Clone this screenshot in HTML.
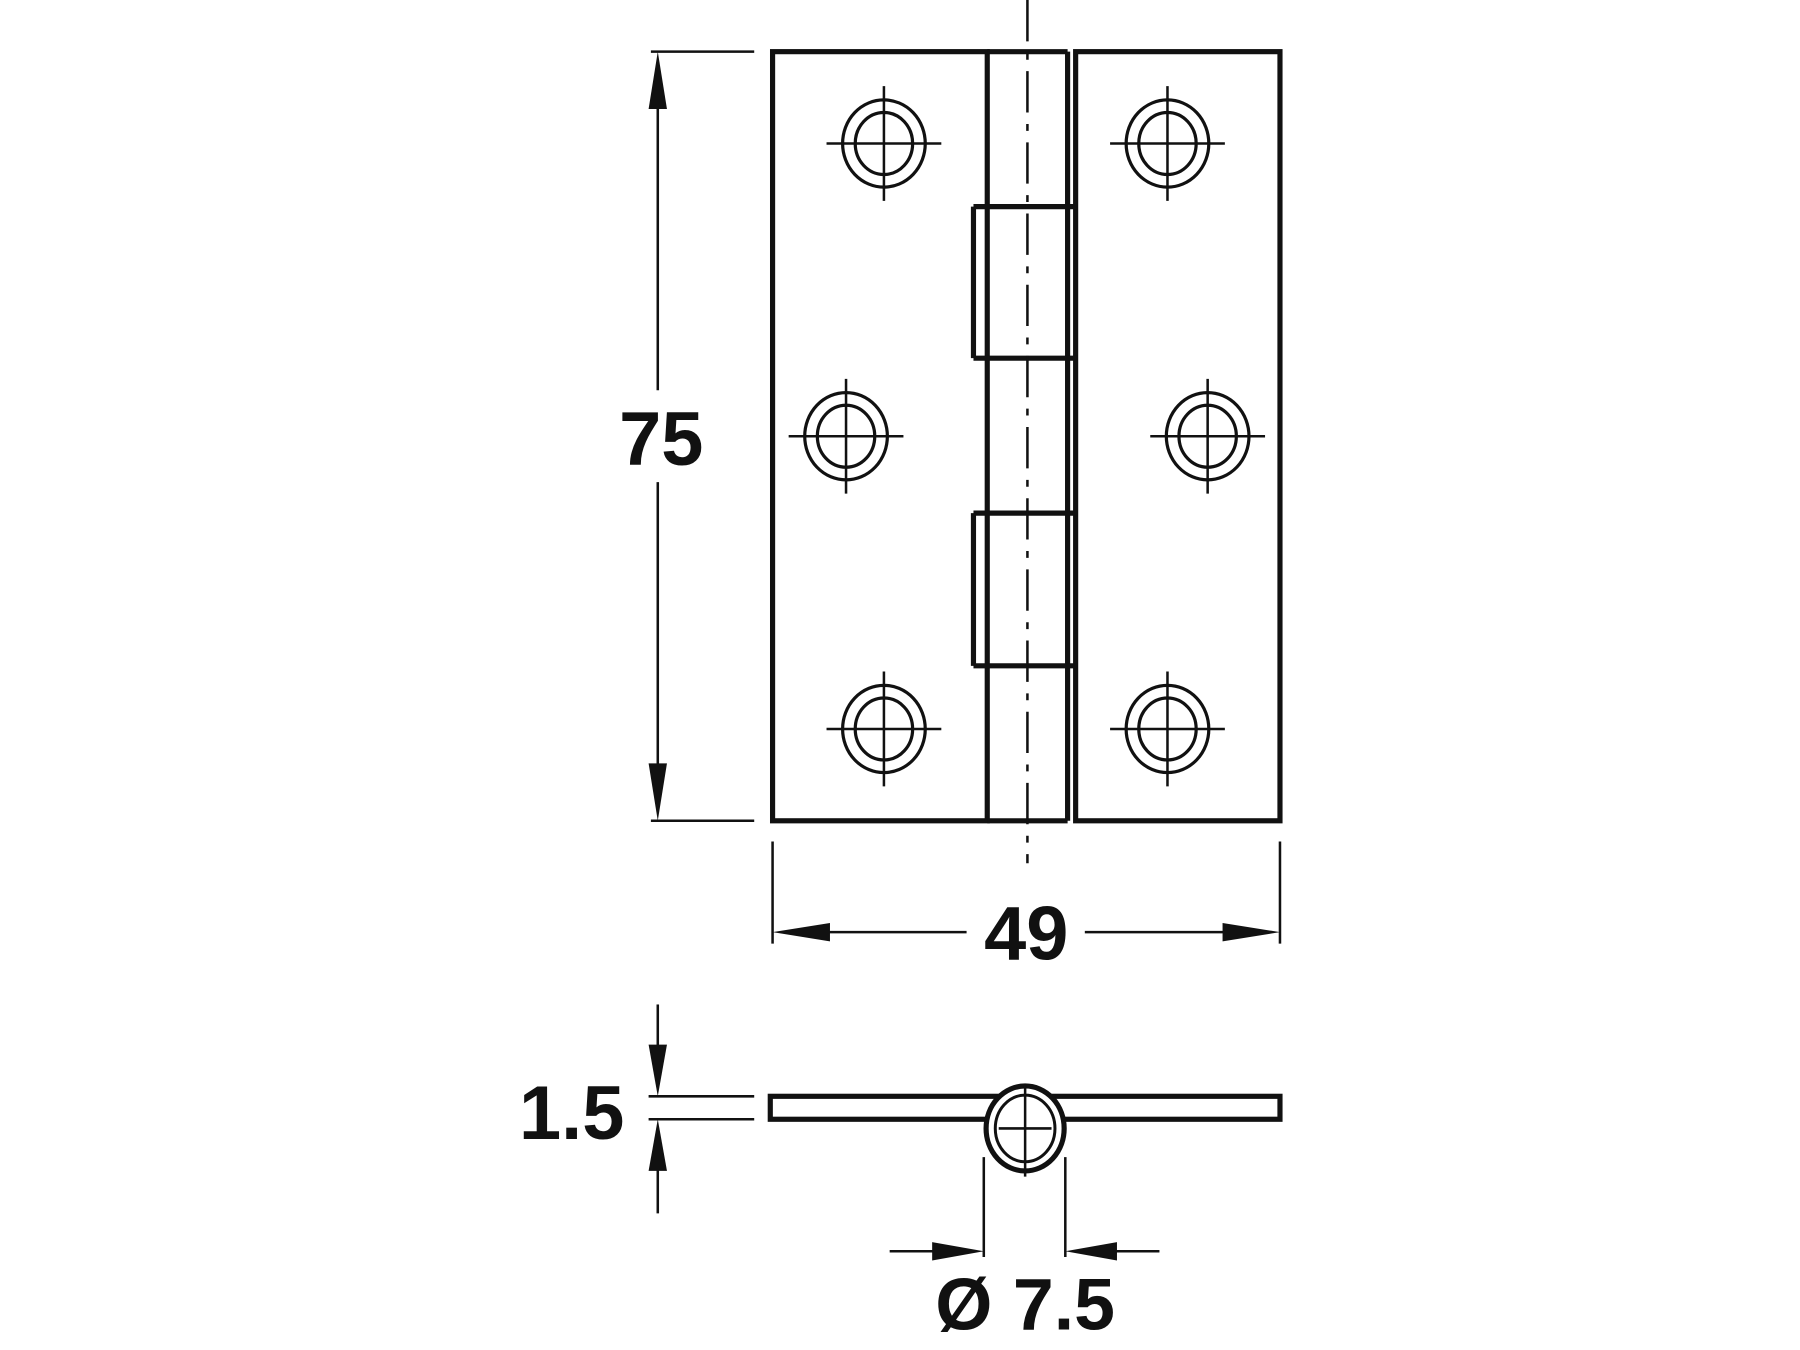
<!DOCTYPE html>
<html><head><meta charset="utf-8"><style>
html,body{margin:0;padding:0;background:#fff;}
svg{display:block;}
text{font-family:"Liberation Sans",Arial,sans-serif;font-weight:bold;fill:#111;}
</style></head><body>
<svg width="1800" height="1350" viewBox="0 0 1568 1176" xmlns="http://www.w3.org/2000/svg">
<defs>
<g id="hole" fill="none" stroke="#111">
  <ellipse cx="0" cy="0" rx="36" ry="38" stroke-width="2.8"/>
  <ellipse cx="0" cy="0" rx="25" ry="27" stroke-width="2.8"/>
  <line x1="-50" y1="0" x2="50" y2="0" stroke-width="2.2"/>
  <line x1="0" y1="-50" x2="0" y2="50" stroke-width="2.2"/>
</g>
</defs>
<rect width="1568" height="1176" fill="#fff"/>
<g stroke="#111" fill="none" stroke-width="4.5">
  <rect x="673" y="45" width="187" height="670"/>
  <rect x="937" y="45" width="178" height="670"/>
  <line x1="860" y1="45" x2="930" y2="45"/>
  <line x1="860" y1="715" x2="930" y2="715"/>
  <line x1="930" y1="45" x2="930" y2="715"/>
  <line x1="848" y1="180" x2="939" y2="180"/>
  <line x1="848" y1="312" x2="939" y2="312"/>
  <line x1="848" y1="447" x2="939" y2="447"/>
  <line x1="848" y1="580" x2="939" y2="580"/>
  <line x1="848" y1="180" x2="848" y2="312"/>
  <line x1="848" y1="447" x2="848" y2="580"/>
</g>
<line x1="895" y1="0" x2="895" y2="752" stroke="#111" stroke-width="2.2" stroke-dasharray="36,10,6,10"/>
<use href="#hole" x="770" y="125"/>
<use href="#hole" x="1017" y="125"/>
<use href="#hole" x="737" y="380"/>
<use href="#hole" x="1052" y="380"/>
<use href="#hole" x="770" y="635"/>
<use href="#hole" x="1017" y="635"/>
<g stroke="#111" stroke-width="2.2" fill="none">
  <line x1="567" y1="45" x2="657" y2="45"/>
  <line x1="567" y1="715" x2="657" y2="715"/>
  <line x1="573" y1="70" x2="573" y2="340"/>
  <line x1="573" y1="420" x2="573" y2="690"/>
  <line x1="673" y1="733" x2="673" y2="822"/>
  <line x1="1115" y1="733" x2="1115" y2="822"/>
  <line x1="698" y1="812" x2="842" y2="812"/>
  <line x1="945" y1="812" x2="1090" y2="812"/>
  <line x1="565" y1="955" x2="657" y2="955"/>
  <line x1="565" y1="975" x2="657" y2="975"/>
  <line x1="573" y1="875" x2="573" y2="930"/>
  <line x1="573" y1="1000" x2="573" y2="1057"/>
  <line x1="857" y1="1008" x2="857" y2="1095"/>
  <line x1="928" y1="1008" x2="928" y2="1095"/>
  <line x1="775" y1="1090" x2="835" y2="1090"/>
  <line x1="950" y1="1090" x2="1010" y2="1090"/>
</g>
<g fill="#111">
  <polygon points="573,45 565,95 581,95"/>
  <polygon points="573,715 565,665 581,665"/>
  <polygon points="673,812 723,804 723,820"/>
  <polygon points="1115,812 1065,804 1065,820"/>
  <polygon points="573,955 565,910 581,910"/>
  <polygon points="573,975 565,1020 581,1020"/>
  <polygon points="857,1090 812,1082 812,1098"/>
  <polygon points="928,1090 973,1082 973,1098"/>
</g>
<g stroke="#111" stroke-width="4.5" fill="none">
  <rect x="671" y="955" width="444" height="20"/>
</g>
<ellipse cx="893" cy="983" rx="34" ry="37" fill="#fff" stroke="#111" stroke-width="4.5"/>
<ellipse cx="893" cy="983" rx="26" ry="29" fill="none" stroke="#111" stroke-width="2.6"/>
<line x1="870" y1="983" x2="916" y2="983" stroke="#111" stroke-width="2.2"/>
<line x1="893" y1="945" x2="893" y2="1025" stroke="#111" stroke-width="2.2"/>
<text x="576" y="405" font-size="66" text-anchor="middle">75</text>
<text x="894" y="836" font-size="66" text-anchor="middle">49</text>
<text x="498" y="992" font-size="66" text-anchor="middle">1.5</text>
<text x="893" y="1158" font-size="64" text-anchor="middle">Ø 7.5</text>
</svg>
</body></html>
